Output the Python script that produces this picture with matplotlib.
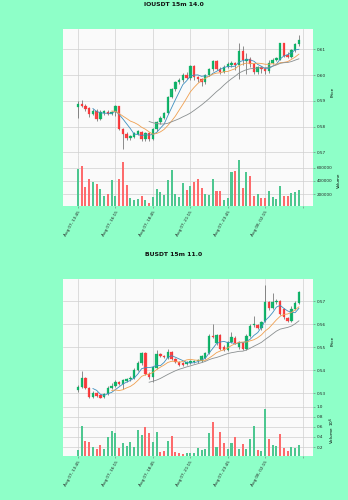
import matplotlib
matplotlib.use("Agg")
import matplotlib.pyplot as plt
import numpy as np
import pandas as pd
from matplotlib.ticker import FuncFormatter

# ---------------- data ----------------
tick_labels = ["Aug 07, 13:45", "Aug 07, 16:15", "Aug 07, 18:45",
               "Aug 07, 21:15", "Aug 07, 23:45", "Aug 08, 02:15", ""]

title_io = "IOUSDT 15m 14.0"
open_io = [.5878, .5889, .5880, .5871, .5850, .5862, .5830, .5852, .5858, .5850,
           .5856, .5879, .5790, .5772, .5754, .5760, .5772, .5780, .5752, .5774,
           .5752, .5790, .5818, .5835, .5852, .5916, .5945, .5972, .5982, .6000,
           .5988, .6037, .5992, .5986, .5974, .6000, .6022, .6055, .6025, .6012,
           .6033, .6040, .6048, .6040, .6092, .6056, .6064, .6044, .6012, .6030,
           .6022, .6015, .6048, .6060, .6060, .6124, .6080, .6072, .6096, .6122]
high_io = [.5900, .5903, .5886, .5876, .5870, .5868, .5866, .5864, .5866, .5862,
           .5884, .5882, .5796, .5778, .5768, .5780, .5788, .5784, .5780, .5778,
           .5795, .5822, .5840, .5857, .5920, .5950, .5978, .5988, .6008, .6012,
           .6040, .6040, .5998, .5990, .6006, .6028, .6060, .6058, .6030, .6038,
           .6050, .6055, .6052, .6126, .6112, .6085, .6070, .6048, .6035, .6034,
           .6030, .6058, .6065, .6070, .6126, .6126, .6088, .6100, .6126, .6157]
low_io = [.5832, .5876, .5862, .5838, .5846, .5822, .5826, .5846, .5845, .5846,
          .5840, .5786, .5712, .5748, .5748, .5754, .5766, .5746, .5744, .5745,
          .5748, .5784, .5812, .5830, .5848, .5910, .5940, .5966, .5975, .5984,
          .5982, .5980, .5975, .5956, .5965, .5995, .6018, .6020, .6005, .6008,
          .6028, .6030, .6020, .5985, .6040, .6005, .6030, .6005, .6005, .6010,
          .6005, .6008, .6042, .6055, .6058, .6070, .6066, .6068, .6088, .6115]
close_io = [.5889, .5880, .5870, .5850, .5862, .5830, .5858, .5860, .5850, .5856,
            .5880, .5790, .5773, .5756, .5762, .5774, .5782, .5752, .5774, .5752,
            .5790, .5818, .5835, .5852, .5916, .5945, .5972, .5982, .6000, .5990,
            .6037, .5992, .5986, .5972, .6000, .6022, .6055, .6025, .6012, .6033,
            .6045, .6048, .6038, .6092, .6058, .6064, .6044, .6012, .6030, .6022,
            .6015, .6048, .6060, .6066, .6124, .6076, .6072, .6096, .6122, .6136]
volume_io = [579000, 631000, 313000, 431000, 380000, 349000, 272000, 174000, 195000, 415000,
             174000, 426000, 682000, 338000, 138000, 103000, 128000, 174000, 103000, 62000,
             149000, 272000, 236000, 185000, 405000, 569000, 205000, 154000, 364000, 267000,
             328000, 385000, 420000, 292000, 205000, 190000, 420000, 241000, 241000, 108000,
             144000, 538000, 554000, 718000, 292000, 528000, 477000, 169000, 200000, 138000,
             138000, 241000, 159000, 123000, 328000, 169000, 169000, 215000, 236000, 267000]

title_b = "BUSDT 15m 11.0"
open_b = [.5312, .5329, .5366, .5322, .5282, .5300, .5293, .5285, .5297, .5322,
          .5330, .5347, .5340, .5355, .5360, .5366, .5400, .5430, .5474, .5385,
          .5369, .5410, .5469, .5464, .5455, .5479, .5449, .5436, .5430, .5428,
          .5432, .5436, .5440, .5442, .5455, .5474, .5550, .5520, .5552, .5503,
          .5488, .5524, .5542, .5500, .5520, .5491, .5550, .5596, .5596, .5582,
          .5612, .5695, .5670, .5697, .5702, .5668, .5628, .5614, .5668, .5693]
high_b = [.5335, .5396, .5370, .5326, .5310, .5306, .5298, .5302, .5330, .5345,
          .5358, .5352, .5364, .5368, .5375, .5410, .5440, .5478, .5478, .5392,
          .5418, .5488, .5474, .5468, .5492, .5484, .5452, .5440, .5434, .5442,
          .5444, .5446, .5450, .5468, .5480, .5556, .5602, .5558, .5556, .5508,
          .5528, .5568, .5548, .5528, .5524, .5556, .5600, .5638, .5600, .5614,
          .5772, .5700, .5734, .5708, .5706, .5672, .5632, .5680, .5700, .5745]
low_b = [.5305, .5322, .5318, .5278, .5280, .5285, .5278, .5281, .5292, .5318,
         .5326, .5336, .5320, .5350, .5355, .5360, .5395, .5425, .5380, .5360,
         .5350, .5405, .5458, .5452, .5450, .5445, .5430, .5420, .5418, .5424,
         .5428, .5430, .5432, .5438, .5450, .5470, .5540, .5510, .5490, .5482,
         .5484, .5520, .5512, .5494, .5486, .5488, .5545, .5590, .5578, .5576,
         .5608, .5664, .5665, .5690, .5640, .5624, .5608, .5610, .5664, .5690]
close_b = [.5329, .5366, .5322, .5282, .5303, .5290, .5280, .5297, .5322, .5330,
           .5350, .5341, .5359, .5362, .5368, .5400, .5430, .5474, .5385, .5369,
           .5413, .5469, .5462, .5458, .5479, .5450, .5435, .5425, .5422, .5437,
           .5439, .5441, .5446, .5460, .5475, .5550, .5543, .5552, .5494, .5488,
           .5524, .5546, .5518, .5522, .5491, .5550, .5594, .5601, .5582, .5609,
           .5695, .5670, .5697, .5702, .5646, .5630, .5614, .5668, .5693, .5741]
volume_b = [150000, 610000, 320000, 300000, 210000, 170000, 240000, 170000, 390000, 520000,
            480000, 190000, 280000, 220000, 290000, 210000, 530000, 430000, 590000, 480000,
            300000, 500000, 100000, 120000, 320000, 410000, 110000, 80000, 70000, 90000,
            90000, 90000, 190000, 140000, 170000, 480000, 700000, 210000, 490000, 280000,
            170000, 280000, 400000, 160000, 260000, 160000, 360000, 610000, 140000, 120000,
            960000, 350000, 240000, 220000, 460000, 190000, 130000, 200000, 190000, 240000]

mav_periods = [5, 10, 20]

# ---------------- style ----------------
FIG_BG = "#8effc8"
AX_BG = "#fafafa"
GRID = "#d0d0d0"
UP, DOWN, WICK = "#00b060", "#fe3032", "#606060"
VUP, VDOWN = "#4dc790", "#fd6b6c"
MAV_COLORS = ["#3d8fbf", "#f0a050", "#8a8f90"]
FS = 3.0

W, H = 348, 500
fig = plt.figure(figsize=(W / 100, H / 100), dpi=100, facecolor=FIG_BG)


def fx(px):
    return px / W


def fy(py):
    return 1 - py / H


def style_ax(ax):
    ax.set_facecolor(AX_BG)
    for s in ax.spines.values():
        s.set_visible(False)
    ax.grid(True, color=GRID, linewidth=0.5)
    ax.set_axisbelow(True)
    ax.yaxis.tick_right()
    ax.yaxis.set_label_position("right")
    ax.tick_params(axis="both", labelsize=FS, length=1.5, width=0.4,
                   color="#707070", pad=1.2, labelcolor="#222222")


def draw_chart(top_px, mid_px, bot_px, title, title_y, o, h, l, c, v, vol_scale):
    o, h, l, c, v = map(np.asarray, (o, h, l, c, v))
    n = len(c)
    x = np.arange(n)
    left, right = 63, 313.3
    axp = fig.add_axes([fx(left), fy(mid_px), fx(right - left), (mid_px - top_px) / H])
    axv = fig.add_axes([fx(left), fy(bot_px), fx(right - left), (bot_px - mid_px) / H],
                       sharex=axp)
    style_ax(axp)
    style_ax(axv)

    up = c >= o
    colors = np.where(up, UP, DOWN)
    axp.vlines(x, l, h, color=WICK, linewidth=0.5, zorder=2)
    body_h = np.maximum(np.abs(c - o), 0.00004)
    axp.bar(x, body_h, bottom=np.minimum(o, c), width=0.65, color=colors,
            edgecolor=colors, linewidth=0.2, alpha=0.9, zorder=3)

    closes = pd.Series(c)
    for p, col in zip(mav_periods, MAV_COLORS):
        ma = closes.rolling(p).mean()
        axp.plot(x, ma.values, color=col, linewidth=0.6, zorder=4)

    rng = h.max() - l.min()
    axp.set_ylim(l.min() - 0.05 * rng, h.max() + 0.05 * rng)
    axp.yaxis.set_major_formatter(FuncFormatter(lambda val, pos: f"{val:.2f}"))
    axp.set_ylabel("Price", fontsize=FS, labelpad=3)
    plt.setp(axp.get_xticklabels(), visible=False)
    axp.tick_params(axis="x", length=0)

    prev = np.concatenate([[o[0]], c[:-1]])
    vcol = np.where(c >= prev, VUP, VDOWN)
    axv.bar(x, v, width=0.55, color=vcol, linewidth=0, zorder=3)
    axv.set_ylim(0.3 * v.min(), 1.1 * v.max())
    if vol_scale:
        axv.yaxis.set_major_formatter(FuncFormatter(lambda val, pos: f"{val / vol_scale:.1f}"))
        axv.set_ylabel("Volume  $10^{6}$", fontsize=FS, labelpad=3)
    else:
        axv.yaxis.set_major_formatter(FuncFormatter(lambda val, pos: f"{int(round(val))}"))
        axv.set_ylabel("Volume", fontsize=FS, labelpad=3)

    ticks = np.arange(0, 10 * len(tick_labels), 10)
    axv.set_xticks(ticks)
    axv.set_xticklabels(tick_labels, rotation=60, ha="right", va="top",
                        rotation_mode="anchor", fontsize=FS)
    axv.set_xlim(-4.0, 62.85)

    fig.text(0.5, fy(title_y), title, ha="center", va="center",
             fontsize=4.4, fontweight="bold", color="#111111")


draw_chart(29, 155, 206, title_io, 4.8, open_io, high_io, low_io, close_io, volume_io, None)
draw_chart(279, 404, 456, title_b, 254.5, open_b, high_b, low_b, close_b, volume_b, 1e6)

fig.savefig("out.png", dpi=100, facecolor=FIG_BG)
